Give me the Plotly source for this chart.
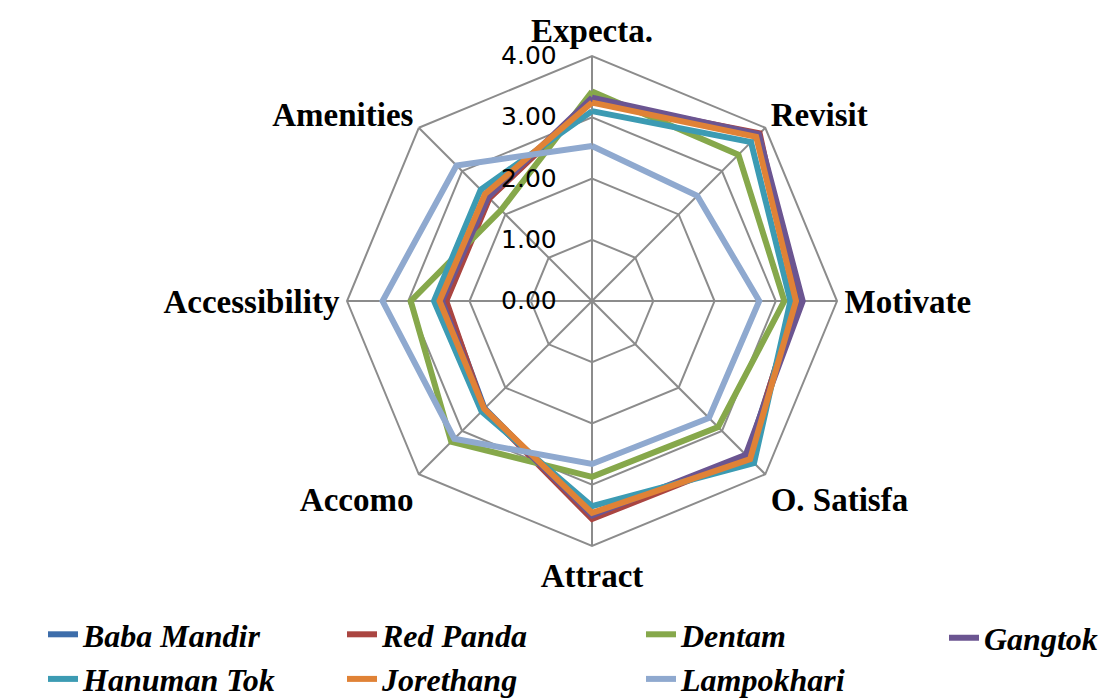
import plotly.graph_objects as go

categories = ["Expecta.", "Revisit", "Motivate", "O. Satisfa", "Attract", "Accomo", "Accessibility", "Amenities"]

baba_mandir = [3.28, 3.85, 3.35, 3.58, 3.52, 2.48, 2.40, 2.38]
red_panda   = [3.27, 3.87, 3.33, 3.60, 3.56, 2.50, 2.38, 2.37]
dentam      = [3.42, 3.38, 3.14, 2.91, 2.87, 3.25, 2.96, 2.10]
gangtok     = [3.32, 3.85, 3.44, 3.55, 3.50, 2.50, 2.45, 2.40]
hanuman_tok = [3.10, 3.67, 3.24, 3.74, 3.35, 2.55, 2.58, 2.57]
jorethang   = [3.24, 3.79, 3.33, 3.65, 3.46, 2.49, 2.49, 2.47]
lampokhari  = [2.53, 2.43, 2.73, 2.70, 2.66, 3.18, 3.42, 3.13]

series_names = ["Baba Mandir", "Red Panda", "Dentam", "Gangtok", "Hanuman Tok", "Jorethang", "Lampokhari"]
series_values = [baba_mandir, red_panda, dentam, gangtok, hanuman_tok, jorethang, lampokhari]
colors = ["#3D6DAA", "#AA4541", "#86A84B", "#6B5591", "#3C9BB3", "#E08236", "#8FA9CF"]
# legend column for each series (reference legend layout: 4 columns, 2 rows)
legend_ids = ["legend", "legend2", "legend3", "legend4", "legend", "legend2", "legend3"]

radial_ticks = [0, 1, 2, 3, 4]

fig = go.Figure()
for name, vals, col, lg in zip(series_names, series_values, colors, legend_ids):
    fig.add_trace(go.Scatterpolar(
        r=vals + vals[:1],
        theta=categories + categories[:1],
        mode="lines",
        name=name,
        legend=lg,
        line=dict(color=col, width=6),
    ))

grid_col = "#8C8C8C"
legend_font = dict(family="Liberation Serif", size=32, color="black", weight="bold", style="italic")
legend_common = dict(orientation="v", font=legend_font, tracegroupgap=0, bgcolor="rgba(0,0,0,0)")

fig.update_layout(
    width=1110, height=699,
    margin=dict(l=0, r=0, t=0, b=0),
    paper_bgcolor="white",
    showlegend=True,
    polar=dict(
        domain=dict(x=[0.3054, 0.7469], y=[0.2303, 0.9313]),
        bgcolor="white",
        gridshape="linear",
        radialaxis=dict(
            range=[0, 4],
            tickvals=radial_ticks,
            tickformat=".2f",
            angle=90,
            tickangle=90,
            side="counterclockwise",
            showline=False,
            gridcolor=grid_col,
            gridwidth=2,
            ticks="outside",
            ticklen=26,
            tickcolor="rgba(0,0,0,0)",
            tickfont=dict(family="DejaVu Sans", size=25, color="black"),
        ),
        angularaxis=dict(
            rotation=90,
            direction="clockwise",
            categoryorder="array",
            categoryarray=categories,
            showline=True,
            linecolor=grid_col,
            linewidth=2,
            gridcolor=grid_col,
            gridwidth=2,
            ticks="",
            tickfont=dict(family="Liberation Serif", size=33, color="black", weight="bold"),
        ),
    ),
    legend=dict(x=35 / 1110, xanchor="left", y=0.0, yanchor="bottom", **legend_common),
    legend2=dict(x=334 / 1110, xanchor="left", y=0.0, yanchor="bottom", **legend_common),
    legend3=dict(x=633 / 1110, xanchor="left", y=0.0, yanchor="bottom", **legend_common),
    legend4=dict(x=936 / 1110, xanchor="left", y=0.138, yanchor="top", **legend_common),
)

fig.write_html("out.html")
